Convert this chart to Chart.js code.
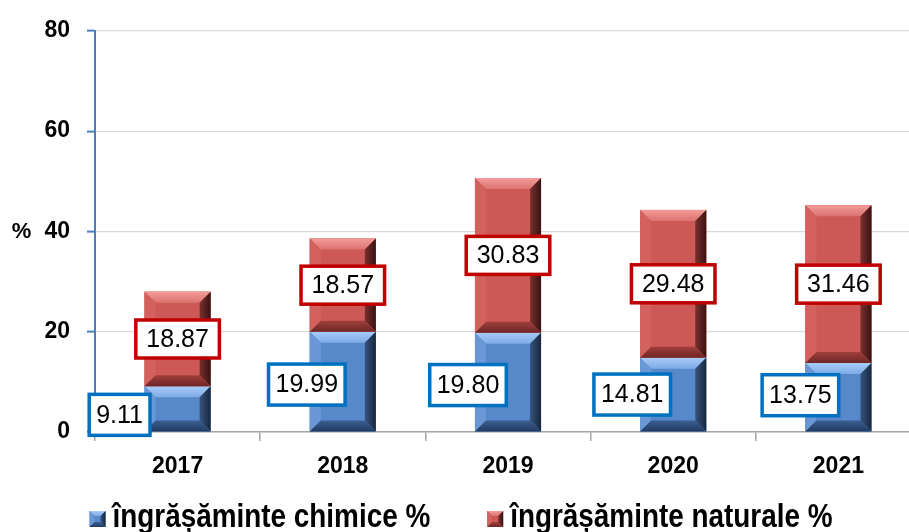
<!DOCTYPE html>
<html>
<head>
<meta charset="utf-8">
<script src="https://cdn.jsdelivr.net/npm/chart.js@4.4.1/dist/chart.umd.min.js"></script>
<style>
  html, body { margin: 0; padding: 0; background: #fff; overflow: hidden; }
  #wrap { width: 930px; height: 532px; }
</style>
</head>
<body>
<div id="wrap"><canvas id="c" width="930" height="532"></canvas></div>
<script>
// Share of fertilized area, by fertilizer type (%)
const years = ['2017', '2018', '2019', '2020', '2021'];
const chimice = [9.11, 19.99, 19.80, 14.81, 13.75];
const naturale = [18.87, 18.57, 30.83, 29.48, 31.46];
const yTicks = [0, 20, 40, 60, 80];
const seriesNames = ['îngrășăminte chimice %', 'îngrășăminte naturale %'];
const yUnit = '%';

// Colour sets for the bevelled bars
const palettes = [
  { face: '#5688ca', top1: '#a8ccf8', top2: '#7eaae7', left: '#6a98d6',
    right1: '#36547f', right2: '#18263c', bot1: '#3b5f93', bot2: '#223a5e',
    frame: '#0070c0' },
  { face: '#cd5956', top1: '#f39b98', top2: '#dc7370', left: '#d3625f',
    right1: '#7a302e', right2: '#381312', bot1: '#a03f3c', bot2: '#6e2725',
    frame: '#c00000' }
];

// Value boxes for the first series sit left of the bar
const chimiceShift = [[-58, 6], [-36, 3], [-40, 3], [-41, 0], [-38, -2]];

function poly(ctx, pts, fill) {
  ctx.beginPath();
  ctx.moveTo(pts[0][0], pts[0][1]);
  for (let i = 1; i < pts.length; i++) ctx.lineTo(pts[i][0], pts[i][1]);
  ctx.closePath();
  ctx.fillStyle = fill;
  ctx.fill();
}

function bevelBox(ctx, L, T, R, B, b, p) {
  const bb = Math.max(0, Math.min(b, (B - T) / 2, (R - L) / 2));
  ctx.save();
  ctx.fillStyle = p.face;
  ctx.fillRect(L, T, R - L, B - T);
  let g = ctx.createLinearGradient(0, T, 0, T + bb);
  g.addColorStop(0, p.top1); g.addColorStop(1, p.top2);
  poly(ctx, [[L, T], [R, T], [R - bb, T + bb], [L + bb, T + bb]], g);
  poly(ctx, [[L, T], [L + bb, T + bb], [L + bb, B - bb], [L, B]], p.left);
  g = ctx.createLinearGradient(R - bb, 0, R, 0);
  g.addColorStop(0, p.right1); g.addColorStop(1, p.right2);
  poly(ctx, [[R, T], [R, B], [R - bb, B - bb], [R - bb, T + bb]], g);
  g = ctx.createLinearGradient(0, B - bb, 0, B);
  g.addColorStop(0, p.bot1); g.addColorStop(1, p.bot2);
  poly(ctx, [[L, B], [R, B], [R - bb, B - bb], [L + bb, B - bb]], g);
  ctx.restore();
}

const bevelPlugin = {
  id: 'bevelBars',
  afterDatasetsDraw(chart) {
    const ctx = chart.ctx;
    chart.data.datasets.forEach((ds, di) => {
      chart.getDatasetMeta(di).data.forEach(bar => {
        const { x, y, base, width } = bar.getProps(['x', 'y', 'base', 'width'], true);
        bevelBox(ctx, x - width / 2, Math.min(y, base), x + width / 2, Math.max(y, base), 11, palettes[di]);
      });
    });
  }
};

const labelPlugin = {
  id: 'boxedValues',
  afterDatasetsDraw(chart) {
    const ctx = chart.ctx;
    ctx.save();
    ctx.font = '25px "Liberation Sans", Arial, sans-serif';
    ctx.textAlign = 'center';
    ctx.textBaseline = 'middle';
    chart.data.datasets.forEach((ds, di) => {
      const padX = di === 0 ? 7 : 10.5;
      const boxH = di === 0 ? 41 : 38;
      chart.getDatasetMeta(di).data.forEach((bar, i) => {
        const { x, y, base } = bar.getProps(['x', 'y', 'base'], true);
        let cx = x, cy = (y + base) / 2;
        if (di === 0) { cx += chimiceShift[i][0]; cy += chimiceShift[i][1]; }
        const txt = ds.data[i].toFixed(2);
        const w = ctx.measureText(txt).width + padX * 2;
        ctx.fillStyle = '#ffffff';
        ctx.fillRect(cx - w / 2, cy - boxH / 2, w, boxH);
        ctx.lineWidth = 3.5;
        ctx.strokeStyle = palettes[di].frame;
        ctx.strokeRect(cx - w / 2, cy - boxH / 2, w, boxH);
        ctx.fillStyle = '#000000';
        ctx.fillText(txt, cx, cy + 1);
      });
    });
    ctx.restore();
  }
};

const extrasPlugin = {
  id: 'unitAndLegend',
  afterDraw(chart) {
    const ctx = chart.ctx;
    const yScale = chart.scales.y;
    ctx.save();
    // unit label beside the 40 tick
    ctx.font = 'bold 22px "Liberation Sans", Arial, sans-serif';
    ctx.fillStyle = '#000';
    ctx.textAlign = 'center';
    ctx.textBaseline = 'middle';
    ctx.fillText(yUnit, 21.5, yScale.getPixelForValue(40) + 1);

    // legend along the bottom, narrow bold type
    const squeeze = 0.82;
    ctx.font = 'bold 34px "Liberation Sans", Arial, sans-serif';
    ctx.textAlign = 'left';
    ctx.textBaseline = 'alphabetic';
    const box = 16, gapIn = 7, gapOut = 57;
    const names = chart.data.datasets.map(d => d.label);
    const widths = names.map(n => ctx.measureText(n).width * squeeze);
    const total = widths.reduce((a, w) => a + box + gapIn + w, 0) + gapOut * (names.length - 1);
    let xPos = 461 - total / 2;
    const baseline = 527;
    names.forEach((n, i) => {
      bevelBox(ctx, xPos, baseline - box, xPos + box, baseline, 5, palettes[i]);
      xPos += box + gapIn;
      ctx.save();
      ctx.translate(xPos, baseline);
      ctx.scale(squeeze, 1);
      ctx.fillStyle = '#000';
      ctx.fillText(n, 0, 0);
      ctx.restore();
      xPos += widths[i] + gapOut;
    });
    ctx.restore();
  }
};

const tickFont = { family: '"Liberation Sans", Arial, sans-serif', size: 23, weight: 'bold' };

new Chart(document.getElementById('c'), {
  type: 'bar',
  data: {
    labels: years,
    datasets: [
      { label: seriesNames[0], data: chimice, backgroundColor: palettes[0].face, borderWidth: 0 },
      { label: seriesNames[1], data: naturale, backgroundColor: palettes[1].face, borderWidth: 0 }
    ]
  },
  options: {
    responsive: false,
    animation: false,
    devicePixelRatio: 1,
    layout: { padding: { top: 28, bottom: 40, left: 0, right: 9 } },
    datasets: { bar: { categoryPercentage: 1, barPercentage: 0.4 } },
    plugins: { legend: { display: false }, tooltip: { enabled: false } },
    scales: {
      x: {
        stacked: true,
        grid: { offset: true, drawOnChartArea: false, drawTicks: true, tickLength: 9, color: '#a6a6a6', lineWidth: 1.5 },
        border: { display: true, color: '#a6a6a6', width: 1.5 },
        ticks: { color: '#000', font: tickFont, padding: 12, maxRotation: 0 },
        afterFit(s) { s.height = 60; }
      },
      y: {
        stacked: true,
        min: yTicks[0],
        max: yTicks[yTicks.length - 1],
        grid: { color: '#d9d9d9', lineWidth: 1.2, drawTicks: true, tickLength: 8, tickColor: '#4a7ebb', tickWidth: 2 },
        border: { display: true, color: '#4a7ebb', width: 2 },
        ticks: { stepSize: yTicks[1] - yTicks[0], color: '#000', font: tickFont, padding: 17 },
        afterFit(s) { s.width = 95; }
      }
    }
  },
  plugins: [bevelPlugin, labelPlugin, extrasPlugin]
});
</script>
</body>
</html>
